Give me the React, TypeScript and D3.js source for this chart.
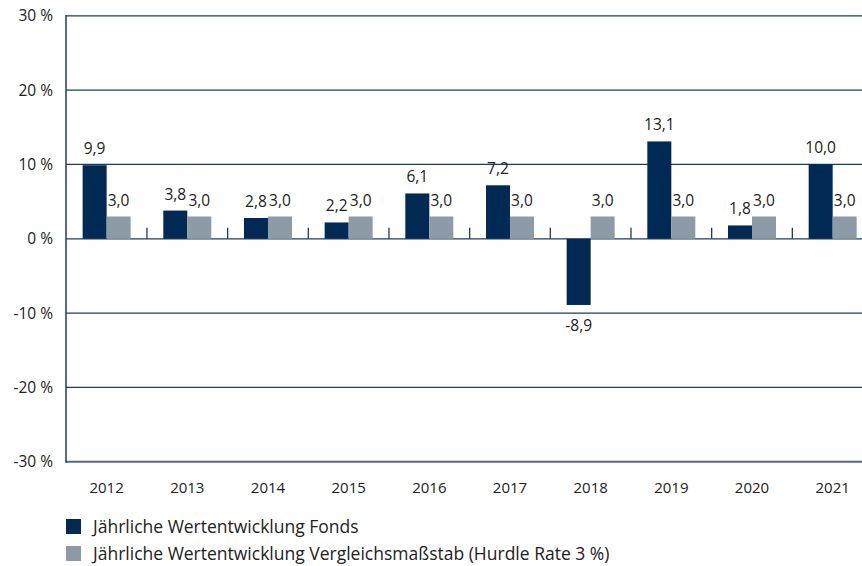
import React from "react";
import * as d3 from "d3";

const years = ["2012", "2013", "2014", "2015", "2016", "2017", "2018", "2019", "2020", "2021"];
const fondsValues = [9.9, 3.8, 2.8, 2.2, 6.1, 7.2, -8.9, 13.1, 1.8, 10.0];
const hurdleValues = [3.0, 3.0, 3.0, 3.0, 3.0, 3.0, 3.0, 3.0, 3.0, 3.0];
const yTicks = [30, 20, 10, 0, -10, -20, -30];
const seriesNames = [
  "Jährliche Wertentwicklung Fonds",
  "Jährliche Wertentwicklung Vergleichsmaßstab (Hurdle Rate 3 %)",
];
const colors = ["#002a54", "#8c9ba6"];

const W = 862;
const H = 566;
const FONT = "'Open Sans', sans-serif";

const fmt = (v: number) => v.toFixed(1).replace(".", ",");

export default function App() {
  const x = d3.scaleBand<string>().domain(years).range([66.3, 873]).padding(0);
  const bw = x.bandwidth();
  const sub = d3
    .scaleBand<string>()
    .domain(["f", "h"])
    .range([bw / 2 - 24, bw / 2 + 24])
    .padding(0);
  const y = d3.scaleLinear().domain([-30, 30]).range([461.8, 15.8]);
  const y0 = y(0);

  return (
    <svg
      width={W}
      height={H}
      style={{ position: "absolute", left: 0, top: 0, background: "#fff" }}
      fontFamily={FONT}
    >
      {yTicks.map((t) => (
        <line
          key={"g" + t}
          x1={66}
          x2={W}
          y1={y(t)}
          y2={y(t)}
          stroke={t === -30 ? "#4f6b86" : "#1b3c63"}
          strokeWidth={t === -30 ? 2 : 1.3}
        />
      ))}
      <line x1={66} x2={66} y1={y(30) - 0.7} y2={y(-30) + 1} stroke="#1b3c63" strokeWidth={1.5} />
      {yTicks.map((t) => (
        <text
          key={"yl" + t}
          x={53}
          y={y(t)}
          dy="0.36em"
          textAnchor="end"
          fontSize={15.5}
          fill="#222"
        >
          {t + " %"}
        </text>
      ))}
      {years.slice(1).map((yr) => (
        <line
          key={"t" + yr}
          x1={x(yr)!}
          x2={x(yr)!}
          y1={y0}
          y2={y0 - 11}
          stroke="#1b3c63"
          strokeWidth={1.3}
        />
      ))}
      {years.map((yr, i) => {
        const bx = x(yr)!;
        const vals = [fondsValues[i], hurdleValues[i]];
        return (
          <g key={"b" + yr}>
            {vals.map((v, j) => {
              const sx = bx + sub(j === 0 ? "f" : "h")!;
              const top = Math.min(y(v), y0);
              const h = Math.abs(y(v) - y0);
              return (
                <g key={j}>
                  <rect x={sx} y={top} width={sub.bandwidth()} height={h} fill={colors[j]} />
                  <text
                    x={sx + sub.bandwidth() / 2}
                    y={v >= 0 ? y(v) - 11 : y(v) + 26}
                    textAnchor="middle"
                    fontSize={15.5}
                    fill="#222"
                  >
                    {fmt(v)}
                  </text>
                </g>
              );
            })}
            <text
              x={bx + bw / 2}
              y={493}
              textAnchor="middle"
              fontSize={15}
              fill="#222"
            >
              {yr}
            </text>
          </g>
        );
      })}
      {seriesNames.map((name, i) => (
        <g key={"l" + i} transform={`translate(66, ${519 + i * 27})`}>
          <rect x={0} y={0} width={15} height={15} fill={colors[i]} />
          <text x={27} y={7.5} dy="0.36em" fontSize={17.5} fill="#222">
            {name}
          </text>
        </g>
      ))}
    </svg>
  );
}
